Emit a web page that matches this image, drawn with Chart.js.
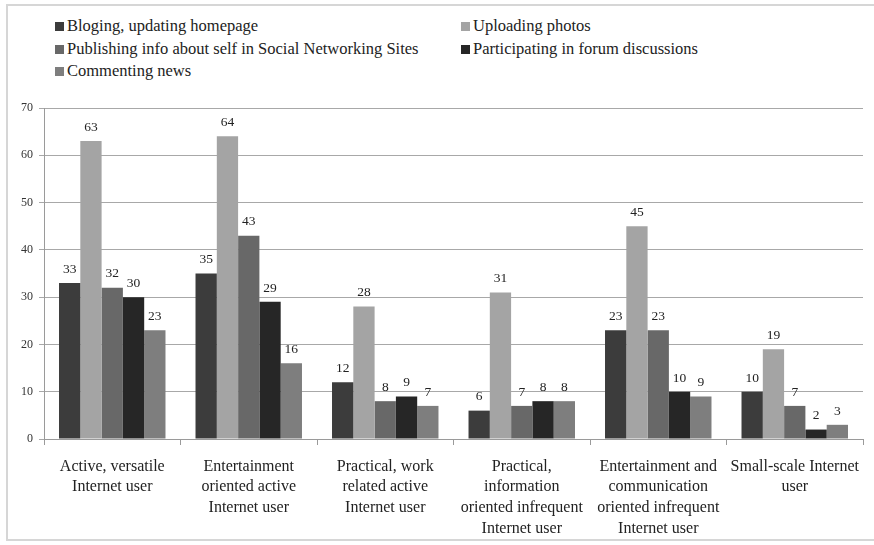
<!DOCTYPE html>
<html>
<head>
<meta charset="utf-8">
<script src="https://cdn.jsdelivr.net/npm/chart.js@4/dist/chart.umd.min.js"></script>
<style>
html, body { margin: 0; padding: 0; background: #fff; }
#wrap { position: relative; width: 874px; height: 545px; overflow: hidden; }
#frame { position: absolute; left: 6px; top: 4px; width: 880px; height: 533px; border: 2px solid #d6d6d6; }
#legend { position: absolute; left: 55px; top: 15px; display: grid; grid-template-columns: 406px auto;
  font: 16.5px "Liberation Serif", serif; color: #222; }
#legend div { height: 22.5px; line-height: 22.5px; white-space: nowrap; }
#legend span { display: inline-block; width: 9px; height: 9px; margin-right: 3px; vertical-align: 0px; }
canvas { position: absolute; left: 0; top: 0; }
</style>
</head>
<body>
<div id="wrap">
  <div id="frame"></div>
  <div id="legend"></div>
  <canvas id="usersChart" width="874" height="545"></canvas>
</div>
<script>
const categories = [
    ['Active, versatile', 'Internet user'],
    ['Entertainment', 'oriented active', 'Internet user'],
    ['Practical, work', 'related active', 'Internet user'],
    ['Practical,', 'information', 'oriented infrequent', 'Internet user'],
    ['Entertainment and', 'communication', 'oriented infrequent', 'Internet user'],
    ['Small-scale Internet', 'user']
];
const seriesNames = [
    'Bloging, updating homepage',
    'Uploading photos',
    'Publishing info about self in Social Networking Sites',
    'Participating in forum discussions',
    'Commenting news'
];
const blogging = [33, 35, 12, 6, 23, 10];
const photos = [63, 64, 28, 31, 45, 19];
const publishing = [32, 43, 8, 7, 23, 7];
const forum = [30, 29, 9, 8, 10, 2];
const commenting = [23, 16, 7, 8, 9, 3];
const yTicks = [0, 10, 20, 30, 40, 50, 60, 70];

const colors = ['#3c3c3c', '#a4a4a4', '#686868', '#262626', '#7e7e7e'];
const values = [blogging, photos, publishing, forum, commenting];

// legend in two columns, like the original
const legend = document.getElementById('legend');
seriesNames.forEach((name, i) => {
    const item = document.createElement('div');
    item.innerHTML = '<span style="background:' + colors[i] + '"></span>' + name;
    legend.appendChild(item);
});

const valueLabels = {
    id: 'valueLabels',
    afterDatasetsDraw(chart) {
        const ctx = chart.ctx;
        ctx.save();
        ctx.font = '13.5px "Liberation Serif", serif';
        ctx.fillStyle = '#222';
        ctx.textAlign = 'center';
        ctx.textBaseline = 'bottom';
        chart.data.datasets.forEach((ds, i) => {
            chart.getDatasetMeta(i).data.forEach((bar, j) => {
                ctx.fillText(ds.data[j], bar.x, bar.y - 7);
            });
        });
        ctx.restore();
    }
};

const ctx = document.getElementById('usersChart').getContext('2d');
const usersChart = new Chart(ctx, {
    type: 'bar',
    data: {
        labels: categories,
        datasets: seriesNames.map((name, i) => ({
            label: name,
            data: values[i],
            backgroundColor: colors[i],
            borderWidth: 0,
            categoryPercentage: 0.78,
            barPercentage: 1.0
        }))
    },
    plugins: [valueLabels],
    options: {
        responsive: false,
        animation: false,
        layout: { padding: { top: 108, right: 11, left: 0, bottom: 0 } },
        plugins: {
            legend: { display: false },
            tooltip: { enabled: false }
        },
        scales: {
            x: {
                afterFit: scale => { scale.height = 106; },
                grid: {
                    display: true,
                    offset: true,
                    drawOnChartArea: false,
                    tickLength: 6,
                    color: '#9a9a9a'
                },
                border: { color: '#9a9a9a' },
                ticks: {
                    padding: 11,
                    color: '#222',
                    font: { family: '"Liberation Serif", serif', size: 16, lineHeight: 1.3 },
                    maxRotation: 0,
                    autoSkip: false
                }
            },
            y: {
                min: 0,
                max: 70,
                afterFit: scale => { scale.width = 44; },
                afterBuildTicks: scale => { scale.ticks = yTicks.map(v => ({ value: v })); },
                grid: { color: '#a8a8a8', tickLength: 5 },
                border: { color: '#9a9a9a' },
                ticks: {
                    padding: 6,
                    color: '#333',
                    font: { family: '"Liberation Serif", serif', size: 12 }
                }
            }
        }
    }
});
</script>
</body>
</html>
